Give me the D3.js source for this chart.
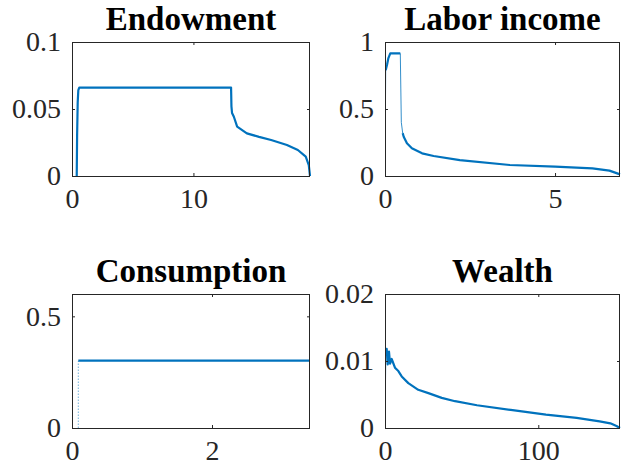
<!DOCTYPE html>
<html><head><meta charset="utf-8">
<script src="https://cdn.jsdelivr.net/npm/d3@7"></script>
<style>body{margin:0;background:#fff}svg{display:block}</style>
</head><body>
<script>
// ---- data ----
const titles = ["Endowment", "Labor income", "Consumption", "Wealth"];

const endowX = [0.39, 0.42, 0.47, 0.52, 0.6, 13.1, 13.13, 13.18, 13.33, 13.6, 14.4, 15.4, 16.4, 17.7, 18.6, 19.25, 19.5, 19.6];
const endowY = [0, 0.03, 0.055, 0.064, 0.066, 0.066, 0.052, 0.047, 0.0442, 0.0368, 0.0318, 0.0292, 0.0269, 0.0231, 0.0194, 0.0144, 0.0082, 0];

const laborLeadX = [0, 0.02];
const laborLeadY = [0, 0.79];
const laborX = [0.02, 0.06, 0.1, 0.155, 0.45];
const laborY = [0.79, 0.83, 0.88, 0.915, 0.915];
const laborDropX = [0.45, 0.48, 0.52];
const laborDropY = [0.915, 0.40, 0.32];
const laborTailX = [0.52, 0.55, 0.645, 0.79, 1.09, 1.43, 2.2, 3.67, 5.0, 6.1, 6.6, 6.91];
const laborTailY = [0.32, 0.293, 0.244, 0.207, 0.169, 0.149, 0.119, 0.082, 0.07, 0.057, 0.04, 0.012];

const consLeadX = [0.09, 0.09];
const consLeadY = [0, 0.3];
const consX = [0.09, 3.4];
const consY = [0.302, 0.302];

const wealthLeadX = [0, 0.5];
const wealthLeadY = [0, 0.0107];
const wealthX = [0.5, 1.1, 1.76, 2.6, 3.3, 4.35, 6.5, 8.7, 10.9, 15.2, 21.7, 28.3, 37, 45.7, 60, 82, 105, 125, 140, 147, 151, 153.3];
const wealthY = [0.0107, 0.0118, 0.0095, 0.0114, 0.0096, 0.0103, 0.009, 0.0085, 0.0077, 0.0067, 0.0057, 0.0052, 0.0045, 0.004, 0.0034, 0.0027, 0.002, 0.0015, 0.001, 0.0007, 0.0003, 0];

const xDomains = [[0, 19.6], [0, 6.91], [0, 3.4], [0, 153.3]];
const yDomains = [[0, 0.1], [0, 1], [0, 0.6], [0, 0.02]];
const xTicks = [[0, 10], [0, 5], [0, 2], [0, 100]];
const yTicks = [[0, 0.05, 0.1], [0, 0.5, 1], [0, 0.5], [0, 0.01, 0.02]];
const yTickLabels = [["0", "0.05", "0.1"], ["0", "0.5", "1"], ["0", "0.5"], ["0", "0.01", "0.02"]];

// ---- layout ----
const W = 621, H = 467;
const boxes = [
  {l: 72, r: 310, t: 42, b: 176},
  {l: 385, r: 620, t: 42, b: 176},
  {l: 72, r: 310, t: 294, b: 428},
  {l: 385, r: 620, t: 294, b: 428}
];
const series = [
  [{x: endowX, y: endowY, thin: false}],
  [{x: laborLeadX, y: laborLeadY, thin: true}, {x: laborX, y: laborY, thin: false},
   {x: laborDropX, y: laborDropY, thin: true}, {x: laborTailX, y: laborTailY, thin: false}],
  [{x: consLeadX, y: consLeadY, thin: true, dotted: true}, {x: consX, y: consY, thin: false}],
  [{x: wealthLeadX, y: wealthLeadY, thin: true}, {x: wealthX, y: wealthY, thin: false}]
];

const svg = d3.select("body").append("svg").attr("width", W).attr("height", H);
const axisColor = "#262626";
const lineColor = "#0072BD";
const font = "'Liberation Serif','Times New Roman',serif";

boxes.forEach((bx, i) => {
  const x = d3.scaleLinear().domain(xDomains[i]).range([bx.l, bx.r]);
  const y = d3.scaleLinear().domain(yDomains[i]).range([bx.b, bx.t]);
  const g = svg.append("g");
  const cid = "clip" + i;
  svg.append("clipPath").attr("id", cid).append("rect")
    .attr("x", bx.l).attr("y", bx.t - 1).attr("width", bx.r - bx.l + 1).attr("height", bx.b - bx.t + 2);

  const line = d3.line().x(d => x(d[0])).y(d => y(d[1]));
  series[i].forEach(s => {
    const pts = s.x.map((v, k) => [v, s.y[k]]);
    g.append("path").attr("d", line(pts)).attr("fill", "none")
      .attr("stroke", lineColor)
      .attr("stroke-width", s.thin ? 1 : 2.2)
      .attr("stroke-opacity", s.dotted ? 0.55 : (s.thin ? 0.8 : 1))
      .attr("stroke-dasharray", s.dotted ? "1.5,1.5" : null)
      .attr("stroke-linejoin", "round")
      .attr("clip-path", `url(#${cid})`);
  });

  const tl = 3;
  const bottom = d3.axisBottom(x).tickValues(xTicks[i]).tickSize(-tl).tickSizeOuter(0).tickFormat(d3.format("d")).tickPadding(12);
  const top = d3.axisTop(x).tickValues(xTicks[i]).tickSize(-tl).tickSizeOuter(0).tickFormat("");
  const left = d3.axisLeft(y).tickValues(yTicks[i]).tickSize(-tl).tickSizeOuter(0)
    .tickFormat((d, k) => yTickLabels[i][k]).tickPadding(11);
  const right = d3.axisRight(y).tickValues(yTicks[i]).tickSize(-tl).tickSizeOuter(0).tickFormat("");

  const styleAxis = a => {
    a.selectAll("path.domain").remove();
    a.selectAll(".tick line").attr("stroke", axisColor).attr("stroke-width", 1);
    a.selectAll("text").attr("fill", axisColor).style("font-family", font).style("font-size", "28px");
  };
  styleAxis(svg.append("g").attr("transform", `translate(0,${bx.b})`).call(bottom));
  styleAxis(svg.append("g").attr("transform", `translate(0,${bx.t})`).call(top));
  styleAxis(svg.append("g").attr("transform", `translate(${bx.l},0)`).call(left));
  styleAxis(svg.append("g").attr("transform", `translate(${bx.r},0)`).call(right));

  svg.append("rect").attr("x", bx.l + 0.5).attr("y", bx.t + 0.5)
    .attr("width", bx.r - bx.l - 1).attr("height", bx.b - bx.t)
    .attr("fill", "none").attr("stroke", axisColor).attr("stroke-width", 1);

  svg.append("text").attr("x", (bx.l + bx.r) / 2).attr("y", bx.t - 12)
    .attr("text-anchor", "middle").style("font-family", font)
    .style("font-weight", "bold").style("font-size", "33px").attr("fill", "#000")
    .text(titles[i]);
});
</script>
</body></html>
